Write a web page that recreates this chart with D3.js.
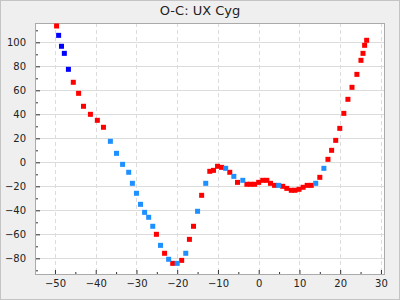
<!DOCTYPE html>
<html>
<head>
<meta charset="utf-8">
<script src="https://cdn.jsdelivr.net/npm/d3@7"></script>
<style>
  body { margin: 0; background: #efefef; }
  svg { display: block; font-family: "DejaVu Sans", sans-serif; }
</style>
</head>
<body>
<div id="chart"></div>
<script>
// O-C values, split by observation type (colour)
const redX = [-49.6, -45.5, -44.2, -43.0, -41.3, -39.6, -38.1, -25.1, -23.1, -21.1, -18.9, -17.0, -16.0, -14.0, -12.0, -11.1, -10.1, -9.1, -7.1, -5.2, -2.9, -2.0, -1.0, 0.0, 1.0, 2.0, 2.9, 3.9, 5.9, 6.9, 8.0, 8.9, 9.9, 10.9, 11.9, 12.9, 15.0, 17.0, 17.9, 18.9, 19.9, 20.9, 21.9, 22.9, 24.1, 25.1, 25.6, 26.0, 26.5];
const redY = [113.6, 66.7, 57.5, 46.7, 40, 35, 29.2, -60, -75.8, -84.2, -81.7, -64.2, -53.3, -27.5, -7.5, -6.7, -3.3, -4.2, -8.3, -16.7, -18.3, -18.3, -18.3, -16.7, -15, -15, -17.5, -19.2, -20, -21.7, -23.3, -23.3, -22.5, -20.8, -19.2, -19.2, -12.5, 2.5, 10, 18.3, 28.3, 40.8, 52.5, 62.5, 73.3, 85, 90.8, 97.5, 101.7];

const blueX = [-49.1, -48.4, -47.7, -46.7];
const blueY = [105.8, 96.7, 90.8, 77.5];

const skyX = [-36.4, -34.9, -33.4, -31.9, -31.0, -30.0, -29.0, -28.0, -27.0, -26.0, -24.1, -22.1, -20.0, -17.9, -15.0, -13.0, -8.1, -6.1, -3.9, 4.9, 14.0, 16.0];
const skyY = [17.5, 7.5, -1.7, -8.3, -17.5, -25.8, -35, -41.7, -45.8, -53.3, -69.2, -80.8, -84.2, -75.8, -40.8, -17.5, -5, -11.7, -15, -19.2, -17.5, -5];

const xTicks = [-50, -40, -30, -20, -10, 0, 10, 20, 30];
const yTicks = [-80, -60, -40, -20, 0, 20, 40, 60, 80, 100];

const width = 400, height = 300;
const plot = { left: 35, right: 385, top: 23, bottom: 275 };

const svg = d3.select("#chart").append("svg")
    .attr("width", width)
    .attr("height", height);

svg.append("rect")
    .attr("x", 0.5).attr("y", 0.5)
    .attr("width", width - 1).attr("height", height - 1)
    .attr("fill", "#efefef")
    .attr("stroke", "#c4c4c4");

svg.append("text")
    .attr("x", width / 2)
    .attr("y", 15)
    .attr("text-anchor", "middle")
    .attr("font-size", 13)
    .attr("fill", "#222")
    .text("O-C: UX Cyg");

const x = d3.scaleLinear().domain([-54.9, 31.0]).range([plot.left, plot.right]);
const y = d3.scaleLinear().domain([-93.9, 116.1]).range([plot.bottom, plot.top]);

svg.append("rect")
    .attr("x", plot.left).attr("y", plot.top)
    .attr("width", plot.right - plot.left)
    .attr("height", plot.bottom - plot.top)
    .attr("fill", "#fff");

// grid
svg.append("g").selectAll("line")
    .data(yTicks).enter().append("line")
    .attr("x1", plot.left).attr("x2", plot.right)
    .attr("y1", d => Math.round(y(d)) + 0.5).attr("y2", d => Math.round(y(d)) + 0.5)
    .attr("stroke", "#dcdcdc");

svg.append("g").selectAll("line")
    .data(xTicks).enter().append("line")
    .attr("x1", d => Math.round(x(d)) + 0.5).attr("x2", d => Math.round(x(d)) + 0.5)
    .attr("y1", plot.top).attr("y2", plot.bottom)
    .attr("stroke", "#dcdcdc")
    .attr("stroke-dasharray", "4,3");

// axes with inward ticks
const xAxis = svg.append("g")
    .attr("transform", `translate(0,${plot.bottom})`)
    .call(d3.axisBottom(x).tickValues(xTicks).tickSize(-5).tickPadding(5));
const xMinor = svg.append("g")
    .attr("transform", `translate(0,${plot.bottom})`)
    .call(d3.axisBottom(x).tickValues(xTicks.slice(0, -1).map(v => v + 5)).tickSize(-3).tickFormat(""));

const yAxis = svg.append("g")
    .attr("transform", `translate(${plot.left},0)`)
    .call(d3.axisLeft(y).tickValues(yTicks).tickSize(-5).tickPadding(9));
const yMinor = svg.append("g")
    .attr("transform", `translate(${plot.left},0)`)
    .call(d3.axisLeft(y).tickValues([-90].concat(yTicks.map(v => v + 10))).tickSize(-3).tickFormat(""));

[xAxis, xMinor, yAxis, yMinor].forEach(g => {
    g.select(".domain").remove();
    g.selectAll("line").attr("stroke", "#333");
    g.selectAll("text").attr("font-size", 10).attr("fill", "#222")
        .attr("font-family", "DejaVu Sans, sans-serif");
});

svg.append("rect")
    .attr("x", plot.left + 0.5).attr("y", plot.top + 0.5)
    .attr("width", plot.right - plot.left - 1)
    .attr("height", plot.bottom - plot.top - 1)
    .attr("fill", "none")
    .attr("stroke", "#aaa");

const s = 5;
function drawSeries(xs, ys, color) {
    svg.append("g").selectAll("rect")
        .data(xs.map((v, i) => [v, ys[i]]))
        .enter().append("rect")
        .attr("x", d => x(d[0]) - s / 2)
        .attr("y", d => y(d[1]) - s / 2)
        .attr("width", s).attr("height", s)
        .attr("fill", color);
}

drawSeries(redX, redY, "#ff0000");
drawSeries(blueX, blueY, "#0000ff");
drawSeries(skyX, skyY, "#1e90ff");
</script>
</body>
</html>
